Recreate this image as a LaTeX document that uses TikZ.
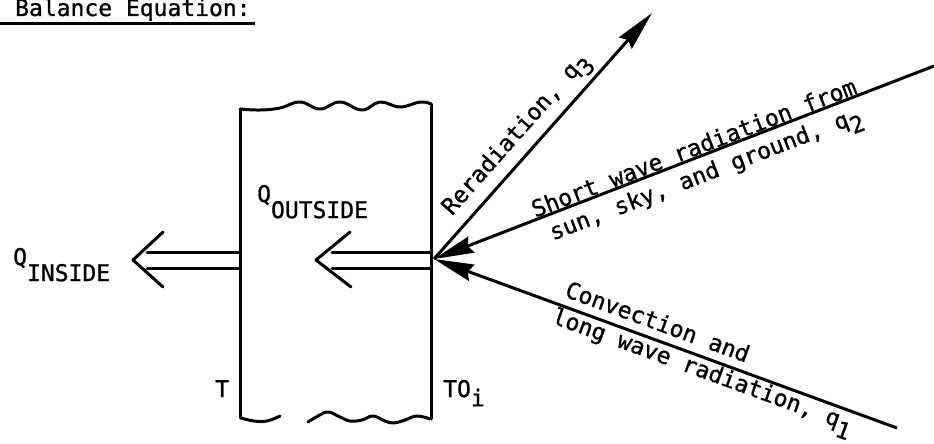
\documentclass[tikz,border=0pt]{standalone}
\usepackage{fontspec}
\setmainfont[FakeBold=1]{DejaVu Sans Mono}
\usetikzlibrary{arrows.meta,calc}
\newcommand\lowr[1]{\raisebox{-0.7em}{#1}}
\newcommand\lowq[1]{\raisebox{-0.4em}{#1}}
\begin{document}
\begin{tikzpicture}[x=1pt,y=-1pt,font=\fontsize{23}{27}\selectfont,
  wall/.style={line width=3pt,line cap=round,line join=round},
  ray/.style={line width=3pt,-{Stealth[length=40pt,width=17pt,inset=4pt]}},
  lbl/.style={inner sep=0pt,anchor=base west}]
\useasboundingbox (0,0) rectangle (934,444);
% title
\node[lbl] (title) at (15,16) {Balance Equation:};
\draw[line width=3pt] ($(title.base west)+(-15,7.5)$) -- ($(title.base east)+(4,7.5)$);
% wall
\draw[wall] (240,418) -- (240,109);
\draw[wall] plot[smooth,tension=0.7] coordinates {(240,109) (260,110) (280,108) (300,102) (320,109) (340,102) (362,110) (380,102) (400,107) (420,102) (431,104)};
\draw[wall] (431,104) -- (431,419);
\draw[wall] plot[smooth,tension=0.7] coordinates {(241,418) (254,421) (267,421) (280,416)};
\draw[wall] plot[smooth,tension=0.7] coordinates {(308,422) (318,416) (328,412) (340,417) (350,421) (362,420) (373,416) (385,421) (394,423) (405,420) (417,416) (430,419)};
% labels
\node[lbl] (qin) at (13,265) {Q\lowr{INSIDE}};
\node[lbl] (qout) at (257,202) {Q\lowr{OUTSIDE}};
\node[lbl] (tl) at (215,397) {T};
\node[lbl] (to) at (443,397) {TO\lowq{i}};
% double arrows
\coordinate (inTip) at (133,260);
\coordinate (outTip) at (316,260);
\draw[wall] (163,232) -- (inTip) -- (163,287);
\draw[wall] (147,252) -- (240,252);
\draw[wall] (147,268) -- (240,268);
\draw[wall] (350,232) -- (outTip) -- (351,287);
\draw[wall] (332,252) -- (431,252);
\draw[wall] (332,268) -- (431,268);
% rays
\coordinate (O) at (434,259);
\coordinate (R) at (652,13);
\coordinate (S) at (934,66);
\coordinate (C) at (897,428);
\draw[ray] (O) -- node[sloped,above,pos=0.45,inner sep=4pt] (rr) {Reradiation, q\lowq{3}} (R);
\draw[ray] (S) -- (O);
\path (O) -- node[sloped,above,pos=0.527,inner sep=1.5pt] (sw1) {Short wave radiation from}
  node[sloped,below,pos=0.53,inner sep=8pt] (sw2) {sun, sky, and ground, q\lowq{2}} (S);
\draw[ray] (C) -- (O);
\path (O) -- node[sloped,above,pos=0.47,inner sep=9pt] (cv1) {Convection and}
  node[sloped,below,pos=0.59,inner sep=2pt] (cv2) {long wave radiation, q\lowq{1}} (C);
\end{tikzpicture}
\end{document}
